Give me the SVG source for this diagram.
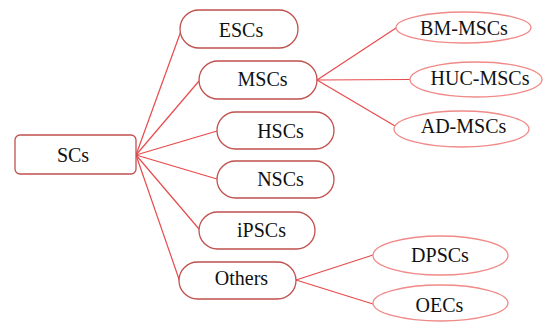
<svg xmlns="http://www.w3.org/2000/svg" width="543" height="323" viewBox="0 0 543 323">
<style>
.box{fill:#fff;stroke:#c0504d;stroke-width:1.3}
.ell{fill:#fff;stroke:#f08a88;stroke-width:1.3}
.ln{stroke:#e84a4c;stroke-width:1.2;fill:none}
text{font-family:"Liberation Serif","Times New Roman",serif;font-size:20px;fill:#111;text-anchor:middle}
</style>
<rect width="543" height="323" fill="#fff"/>
<g id="connectors">
<line class="ln" x1="136" y1="155" x2="181" y2="31"/>
<line class="ln" x1="136" y1="155" x2="199" y2="81"/>
<line class="ln" x1="136" y1="155" x2="217" y2="131"/>
<line class="ln" x1="136" y1="155" x2="217" y2="179"/>
<line class="ln" x1="136" y1="155" x2="199" y2="229"/>
<line class="ln" x1="136" y1="155" x2="180" y2="282"/>
<line class="ln" x1="317" y1="80" x2="396" y2="28"/>
<line class="ln" x1="317" y1="80" x2="410" y2="79.5"/>
<line class="ln" x1="317" y1="80" x2="395" y2="126"/>
<line class="ln" x1="296" y1="280" x2="373" y2="255"/>
<line class="ln" x1="296" y1="280" x2="373" y2="304"/>
</g>
<g id="SCs"><rect class="box" x="15" y="135" width="121" height="39" rx="5"/><text x="73" y="162">SCs</text></g>
<g id="ESCs"><rect class="box" x="180" y="10" width="118" height="38" rx="19"/><text x="241" y="37">ESCs</text></g>
<g id="MSCs"><rect class="box" x="199" y="61" width="118" height="38" rx="19"/><text x="262.5" y="86">MSCs</text></g>
<g id="HSCs"><rect class="box" x="217" y="112" width="117" height="37" rx="18.5"/><text x="280.5" y="138">HSCs</text></g>
<g id="NSCs"><rect class="box" x="217" y="161" width="117" height="37" rx="18.5"/><text x="280.5" y="186">NSCs</text></g>
<g id="iPSCs"><rect class="box" x="199" y="212" width="116" height="37" rx="18.5"/><text x="261.5" y="237">iPSCs</text></g>
<g id="Others"><rect class="box" x="179" y="262" width="117" height="37" rx="18.5"/><text x="241.5" y="285">Others</text></g>
<g id="BM-MSCs"><ellipse class="ell" cx="463.5" cy="27.5" rx="67.5" ry="15.5"/><text x="464" y="35">BM-MSCs</text></g>
<g id="HUC-MSCs"><ellipse class="ell" cx="476" cy="79.5" rx="66" ry="17.5"/><text x="480" y="85">HUC-MSCs</text></g>
<g id="AD-MSCs"><ellipse class="ell" cx="461.5" cy="129" rx="67.5" ry="18"/><text x="463.5" y="133">AD-MSCs</text></g>
<g id="DPSCs"><ellipse class="ell" cx="440.5" cy="255.5" rx="67.5" ry="19.5"/><text x="440" y="262">DPSCs</text></g>
<g id="OECs"><ellipse class="ell" cx="440.5" cy="303" rx="67.5" ry="18"/><text x="439.5" y="312">OECs</text></g>
</svg>
